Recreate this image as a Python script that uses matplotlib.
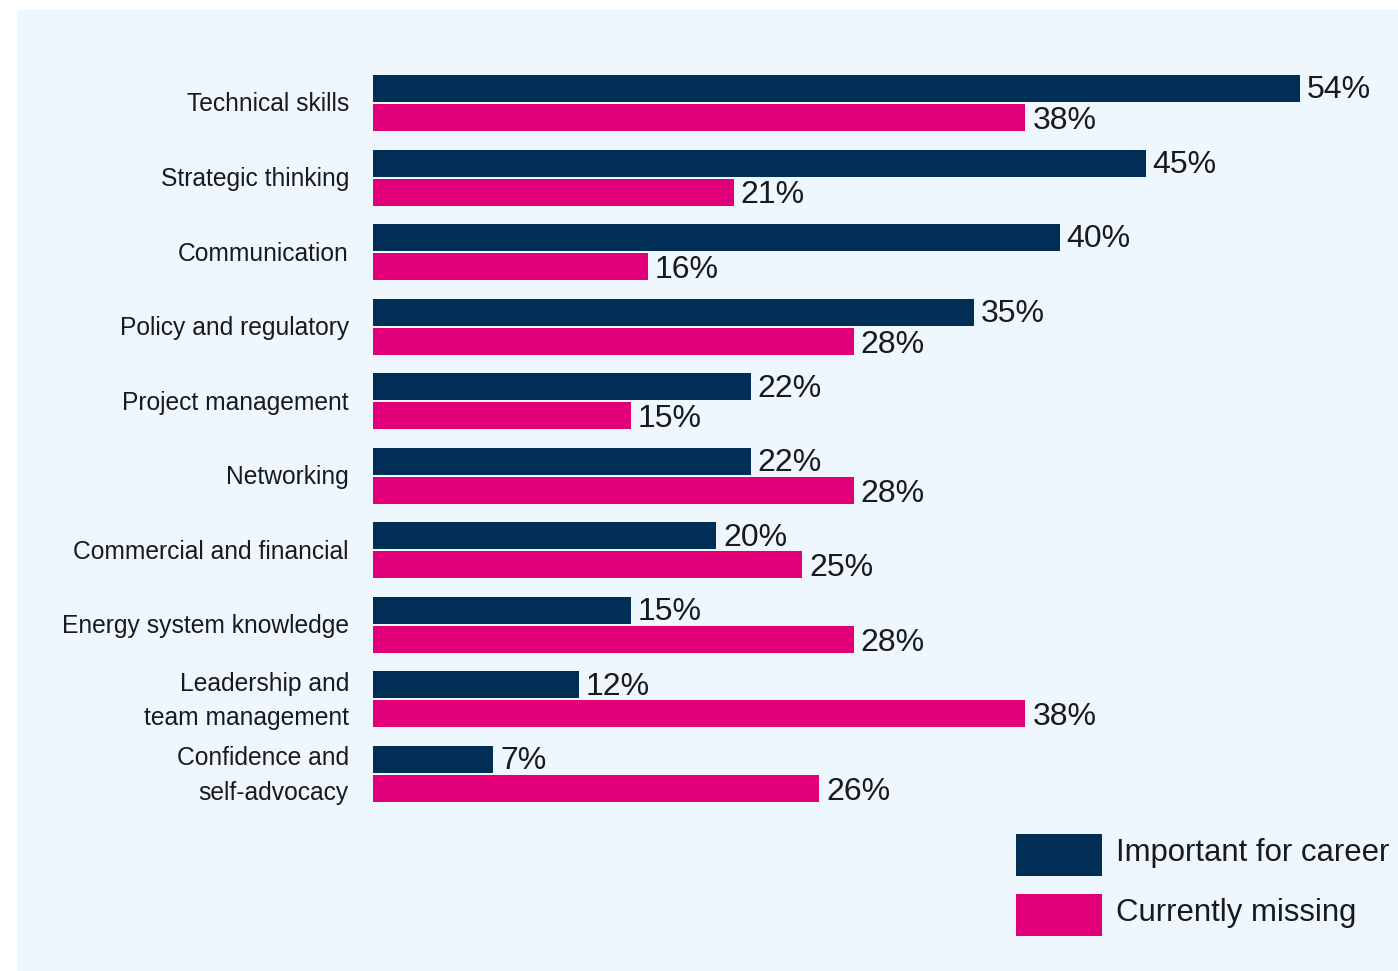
import numpy as np
import matplotlib.pyplot as plt
from matplotlib.patches import Rectangle

skills = ['Technical skills', 'Strategic thinking', 'Communication',
          'Policy and regulatory', 'Project management', 'Networking',
          'Commercial and financial', 'Energy system knowledge',
          'Leadership and\nteam management', 'Confidence and\nself-advocacy']
important = [54, 45, 40, 35, 22, 22, 20, 15, 12, 7]
missing = [38, 21, 16, 28, 15, 28, 25, 28, 38, 26]

navy = '#002E54'
pink = '#E2007A'
bg = '#EEF6FE'
txt = '#1a1a1a'

plt.rcParams['font.family'] = ['Liberation Sans', 'DejaVu Sans']

W, H = 1398, 971
fig = plt.figure(figsize=(W / 100, H / 100), dpi=100)
fig.patch.set_facecolor('white')
# light panel behind everything
fig.patches.append(Rectangle((17 / W, 0), 1 - 17 / W, 1 - 10 / H,
                             transform=fig.transFigure, facecolor=bg,
                             edgecolor='none', zorder=-10))

left, right = 373, 1398
top, bottom = 28, 828
ax = fig.add_axes([left / W, 1 - bottom / H, (right - left) / W, (bottom - top) / H])
ax.set_facecolor('none')
ax.set_zorder(5)

px_per_unit = 74.56
ax.set_xlim(0, (right - left) / 17.17)
ax.set_ylim((bottom - 103) / px_per_unit, (top - 103) / px_per_unit)

y = np.arange(len(skills))
off = 14.5 / px_per_unit
h = 27 / px_per_unit
ax.barh(y - off, important, height=h, color=navy, label='Important for career')
ax.barh(y + off, missing, height=h, color=pink, label='Currently missing')

for i in range(len(skills)):
    ax.text(important[i] + 0.4, y[i] - off + 0.025, f'{important[i]}%', va='center',
            ha='left', fontsize=23, color=txt, clip_on=False)
    ax.text(missing[i] + 0.4, y[i] + off + 0.045, f'{missing[i]}%', va='center',
            ha='left', fontsize=23, color=txt, clip_on=False)
    ax.text(-1.4, y[i] + 0.02, skills[i], va='center', ha='right', fontsize=17.7,
            color=txt, linespacing=1.55, clip_on=False)

for s in ax.spines.values():
    s.set_visible(False)
ax.set_xticks([])
ax.set_yticks([])

# legend drawn by hand in figure pixels
for k, (c, lab) in enumerate([(navy, 'Important for career'), (pink, 'Currently missing')]):
    y0 = 834 + 60 * k
    fig.patches.append(Rectangle((1016 / W, 1 - (y0 + 42) / H), 86 / W, 42 / H,
                                 transform=fig.transFigure, facecolor=c,
                                 edgecolor='none'))
    fig.text(1116 / W, 1 - (y0 + 19) / H, lab, va='center', ha='left',
             fontsize=22.4, color=txt)

fig.savefig('out.png', dpi=100)
